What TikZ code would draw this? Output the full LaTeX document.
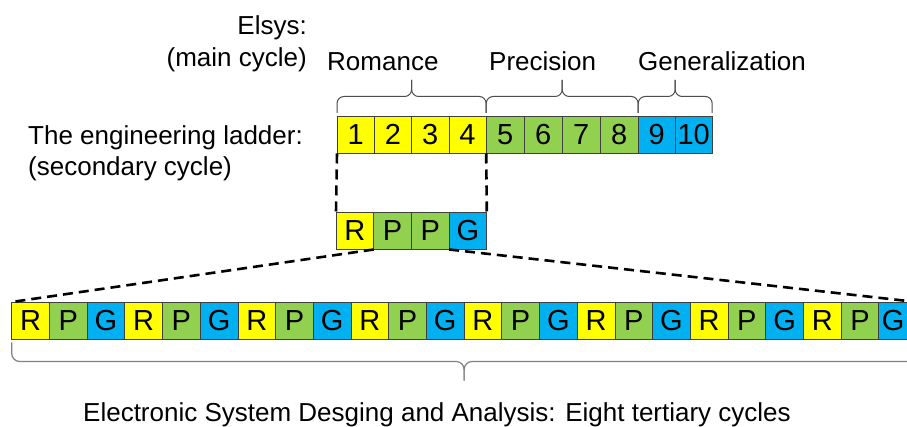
\documentclass[tikz,border=0pt]{standalone}
\usepackage{fontspec}
\setmainfont{Liberation Sans}
\usetikzlibrary{calc}
\definecolor{cyel}{HTML}{FFFF00}
\definecolor{cgrn}{HTML}{92D050}
\definecolor{cblu}{HTML}{00B0F0}
% curly brace drawn between two points: #1 start, #2 end, #3 half height (signed), #4 style
\newcommand\mycurly[4]{%
  \draw[#4] (#1) -- ++(0,#3) -| ($(#1)!0.5!(#2)+(0,2*#3)$);
  \draw[#4] (#2) -- ++(0,#3) -| ($(#1)!0.5!(#2)+(0,2*#3)$);
}
\begin{document}
\begin{tikzpicture}[x=1pt,y=-1pt,
  cell/.style={draw=black!75, line width=0.8pt, inner sep=0pt, outer sep=0pt,
    minimum height=37.5pt, anchor=north west, font=\fontsize{29}{33}\selectfont},
  ycell/.style={cell, fill=cyel},
  gcell/.style={cell, fill=cgrn},
  bcell/.style={cell, fill=cblu},
  lbl/.style={inner sep=0pt, font=\fontsize{26}{31}\selectfont},
  dashline/.style={draw=black, line width=2.6pt, dash pattern=on 10pt off 6pt},
  topbrace/.style={draw=black!70, line width=1pt, rounded corners=7pt},
  botbrace/.style={draw=black!50, line width=1.2pt, rounded corners=8pt},
]
\useasboundingbox (0,0) rectangle (907,427);
\clip (0,0) rectangle (907,427);
\fill[white] (0,0) rectangle (907,427);

% labels
\node[lbl, anchor=base east] (elsys) at (307,35) {Elsys:};
\node[lbl, anchor=base east] (mainc) at (307,67) {(main cycle)};
\node[lbl, anchor=base west] (rom) at (327,71) {Romance};
\node[lbl, anchor=base west] (pre) at (489,71) {Precision};
\node[lbl, anchor=base west] (gen) at (638,71) {Generalization};
\node[lbl, anchor=base west] (ladder) at (28,145) {The engineering ladder:};
\node[lbl, anchor=base west] (secc) at (28,176) {(secondary cycle)};
\node[lbl, anchor=base west] (esda) at (83,421) {Electronic System Desging and Analysis: Eight tertiary cycles};

% top row
\node[ycell, minimum width=37.3pt] (t1) at (337,116) {1};
\node[ycell, minimum width=37.3pt] (t2) at (374.3,116) {2};
\node[ycell, minimum width=37.3pt] (t3) at (411.6,116) {3};
\node[ycell, minimum width=37.3pt] (t4) at (448.9,116) {4};
\node[gcell, minimum width=38pt] (t5) at (486.2,116) {5};
\node[gcell, minimum width=38pt] (t6) at (524.2,116) {6};
\node[gcell, minimum width=38pt] (t7) at (562.2,116) {7};
\node[gcell, minimum width=38pt] (t8) at (600.2,116) {8};
\node[bcell, minimum width=37pt] (t9) at (638.2,116) {9};
\node[bcell, minimum width=37pt] (t10) at (675.2,116) {10};

% middle row
\node[ycell, minimum width=37.7pt] (m1) at (336,212) {R};
\node[gcell, minimum width=37.7pt] (m2) at (373.7,212) {P};
\node[gcell, minimum width=37.7pt] (m3) at (411.4,212) {P};
\node[bcell, minimum width=37.7pt] (m4) at (449.1,212) {G};

% bottom row
\foreach \j in {0,...,6}{
  \pgfmathsetmacro\xa{11.7+113.1*\j}
  \pgfmathtruncatemacro\na{3*\j+1}
  \pgfmathtruncatemacro\nb{3*\j+2}
  \pgfmathtruncatemacro\nc{3*\j+3}
  \node[ycell, minimum width=37.7pt] (b\na) at (\xa,302) {R};
  \node[gcell, minimum width=37.7pt] (b\nb) at (\xa+37.7,302) {P};
  \node[bcell, minimum width=37.7pt] (b\nc) at (\xa+75.4,302) {G};
}
\node[ycell, minimum width=37.7pt] (b22) at (803.4,302) {R};
\node[gcell, minimum width=37.7pt] (b23) at (841.1,302) {P};
\node[bcell, minimum width=37.7pt] (b24) at (878.8,302) {\hspace*{-9pt}G};

% brace end points
\coordinate (rA) at ($(t1.north west)+(0,-3)$);
\coordinate (rB) at ($(t4.north east)+(0,-3)$);
\coordinate (pA) at ($(t5.north west)+(0,-3)$);
\coordinate (pB) at ($(t8.north east)+(0,-3)$);
\coordinate (gA) at ($(t9.north west)+(0,-3)$);
\coordinate (gB) at ($(t10.north east)+(0,-3)$);
\coordinate (eA) at ($(b1.south west)+(0,3)$);
\coordinate (eB) at ($(b24.south east)+(0,3)$);

% braces
\mycurly{rA}{rB}{-16.5}{topbrace}
\mycurly{pA}{pB}{-16.5}{topbrace}
\mycurly{gA}{gB}{-16.5}{topbrace}
\mycurly{eA}{eB}{19}{botbrace}

% dashed connectors
\draw[dashline] (t1.south west) -- (m1.north west);
\draw[dashline] (t4.south east) -- (m4.north east);
\draw[dashline] (m1.south east) -- (b1.north west);
\draw[dashline] (m4.south west) -- (b24.north east);
\end{tikzpicture}
\end{document}
